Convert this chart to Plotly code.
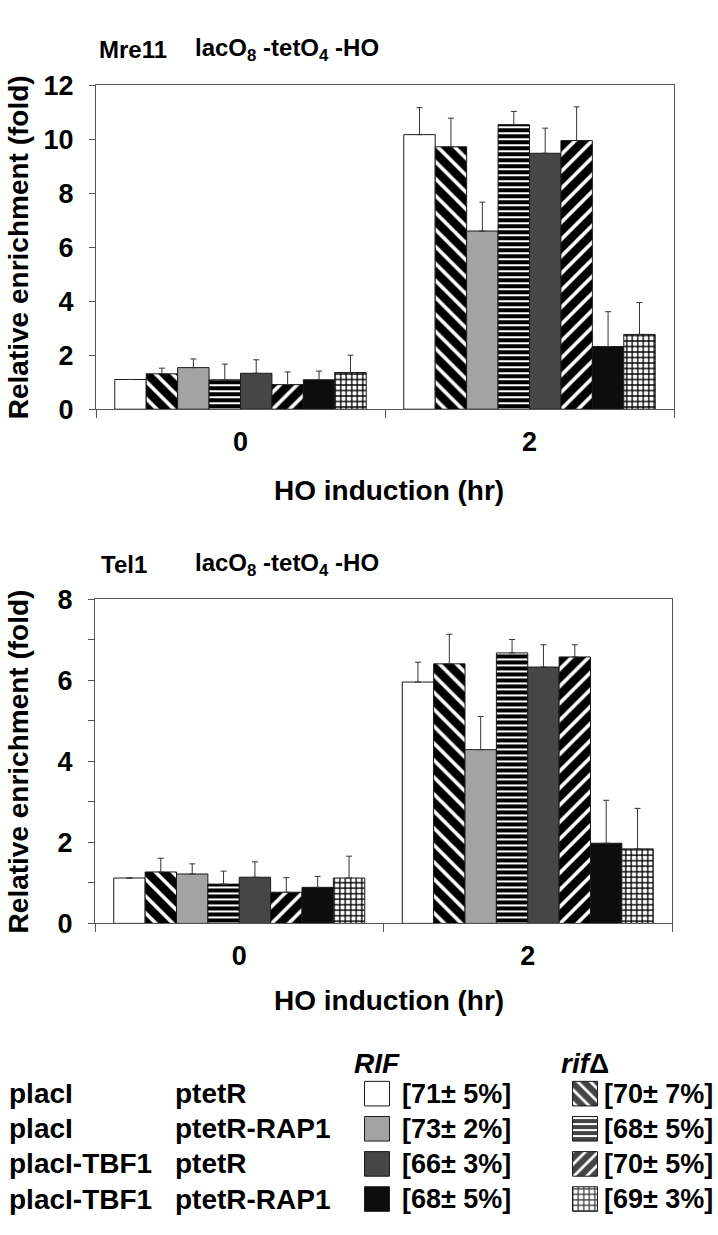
import plotly.graph_objects as go

# ---------------- data ----------------
times = ["0", "2"]

series_names = [
    "RIF placI ptetR", "rifΔ placI ptetR",
    "RIF placI ptetR-RAP1", "rifΔ placI ptetR-RAP1",
    "RIF placI-TBF1 ptetR", "rifΔ placI-TBF1 ptetR",
    "RIF placI-TBF1 ptetR-RAP1", "rifΔ placI-TBF1 ptetR-RAP1",
]

# Mre11 (top panel): values at 0 h and 2 h, upper error
mre11_vals = [
    [1.10, 10.17], [1.31, 9.72], [1.54, 6.60], [1.09, 10.54],
    [1.33, 9.48], [0.91, 9.95], [1.09, 2.32], [1.36, 2.77],
]
mre11_err = [
    [None, 1.00], [0.21, 1.06], [0.32, 1.07], [0.58, 0.49],
    [0.50, 0.93], [0.47, 1.25], [0.32, 1.29], [0.64, 1.18],
]

# Tel1 (bottom panel)
tel1_vals = [
    [1.12, 5.96], [1.27, 6.41], [1.22, 4.29], [0.97, 6.68],
    [1.14, 6.33], [0.77, 6.58], [0.89, 1.98], [1.12, 1.84],
]
tel1_err = [
    [None, 0.49], [0.34, 0.73], [0.25, 0.82], [0.32, 0.33],
    [0.38, 0.55], [0.36, 0.30], [0.27, 1.06], [0.54, 1.00],
]

# styles per series
fill_colors = ["white", "white", "#a3a3a3", "white", "#464646", "white", "#0d0d0d", "white"]
pattern_shapes = ["", "\\", "", "-", "", "/", "", "+"]
pattern_sizes = [8, 12, 8, 6, 8, 12, 8, 5.5]
pattern_solid = [0.3, 0.7, 0.3, 0.66, 0.3, 0.7, 0.3, 0.42]

# legend table
row_col1 = ["placI", "placI", "placI-TBF1", "placI-TBF1"]
row_col2 = ["ptetR", "ptetR-RAP1", "ptetR", "ptetR-RAP1"]
rif_pct = ["[71± 5%]", "[73± 2%]", "[66± 3%]", "[68± 5%]"]
rifd_pct = ["[70± 7%]", "[68± 5%]", "[70± 5%]", "[69± 3%]"]
legend_rows = [0, 1, 2, 3]

# ---------------- layout helpers ----------------
W, H = 718, 1235
def fx(x):
    return x / W
def fy(y):
    return 1 - y / H

FONT = "Liberation Sans, Arial, sans-serif"
AX = "#555555"

fig = go.Figure()

def add_panel(vals, errs, xa, ya):
    for i, name in enumerate(series_names):
        fig.add_trace(go.Bar(
            x=times, y=vals[i], name=name, xaxis=xa, yaxis=ya,
            showlegend=False, textposition="none",
            marker=dict(
                color=fill_colors[i],
                line=dict(color="#1a1a1a", width=1),
                pattern=dict(shape=pattern_shapes[i], fgcolor="black", bgcolor=fill_colors[i],
                             fgopacity=1, size=pattern_sizes[i], solidity=pattern_solid[i]),
            ),
            error_y=dict(type="data", symmetric=False, array=errs[i], arrayminus=[0, 0],
                         color="#333333", thickness=1, width=3),
        ))

add_panel(mre11_vals, mre11_err, "x", "y")
add_panel(tel1_vals, tel1_err, "x2", "y2")

# legend swatches drawn as bars on an auxiliary axis
rif_idx = [0, 2, 4, 6]
rifd_idx = [1, 3, 5, 7]
sw_x, sw_base, sw_col, sw_shape, sw_size, sw_sol = [], [], [], [], [], []
for col, idxs in ((0, rif_idx), (1, rifd_idx)):
    for r, k in zip(legend_rows, idxs):
        sw_x.append(col)
        sw_base.append(r - 0.35)
        sw_col.append(fill_colors[k])
        sw_shape.append(pattern_shapes[k])
        sw_size.append(pattern_sizes[k] * (0.75 if pattern_shapes[k] in ("/", "\\") else 1.0))
        sw_sol.append(pattern_solid[k])
fig.add_trace(go.Bar(
    x=sw_x, y=[0.7] * len(sw_x), base=sw_base, width=0.12,
    xaxis="x3", yaxis="y3", showlegend=False, hoverinfo="skip", textposition="none",
    marker=dict(color=sw_col, line=dict(color="#1a1a1a", width=1),
                pattern=dict(shape=sw_shape, fgcolor="black", bgcolor=sw_col, fgopacity=1,
                             size=sw_size, solidity=sw_sol)),
))

axis_common = dict(showline=True, mirror=True, linecolor=AX, linewidth=1,
                   showgrid=False, zeroline=False, ticks="outside", tickcolor=AX)
tickfont = dict(family=FONT, size=27, color="black", weight="bold")

fig.update_layout(
    width=W, height=H, margin=dict(l=0, r=0, t=0, b=0),
    paper_bgcolor="white", plot_bgcolor="white",
    barmode="group", bargap=0.13, bargroupgap=0,
    font=dict(family=FONT, color="black"),
    xaxis=dict(domain=[fx(96), fx(674)], anchor="y", type="category",
               tickson="boundaries", ticklen=8, tickfont=tickfont,
               ticklabelstandoff=8, **axis_common),
    yaxis=dict(domain=[fy(404), fy(72)], anchor="x", range=[0, 12],
               tickvals=[0, 2, 4, 6, 8, 10, 12], ticklen=6, tickfont=tickfont,
               ticklabelstandoff=10, **axis_common),
    xaxis2=dict(domain=[fx(95), fx(672)], anchor="y2", type="category",
                tickson="boundaries", ticklen=8, tickfont=tickfont,
                ticklabelstandoff=8, **axis_common),
    yaxis2=dict(domain=[fy(931), fy(599)], anchor="x2", range=[0, 8],
                tickvals=[0, 2, 4, 6, 8], ticklen=6, tickfont=tickfont,
                ticklabelstandoff=10,
                minor=dict(tickvals=[1, 3, 5, 7], ticks="outside", ticklen=6,
                           tickcolor=AX, showgrid=False),
                **axis_common),
    xaxis3=dict(domain=[fx(273), fx(689)], anchor="y3", range=[-0.5, 1.5], visible=False),
    yaxis3=dict(domain=[fy(1231.5), fy(1087.5)], anchor="x3", range=[3.5, -0.5], visible=False),
)

ann = []
def text(x, y, s, size, xanchor="left", angle=0):
    ann.append(dict(x=fx(x), y=fy(y), xref="paper", yref="paper", text=s, showarrow=False,
                    xanchor=xanchor, yanchor="middle", textangle=angle,
                    font=dict(family=FONT, size=size, color="black", weight="bold")))

# panel titles
text(97, 35, "Mre11", 24)
text(193, 35, "lacO<sub>8</sub> -tetO<sub>4</sub> -HO", 24)
text(99, 563, "Tel1", 24)
text(193, 563, "lacO<sub>8</sub> -tetO<sub>4</sub> -HO", 24)
# axis titles
text(18, 238, "Relative enrichment (fold)", 28, "center", -90)
text(18, 765, "Relative enrichment (fold)", 28, "center", -90)
text(389, 487, "HO induction (hr)", 28, "center")
text(389, 1010, "HO induction (hr)", 28, "center")
# legend table
text(377, 1075, "<i>RIF</i>", 28, "center")
text(585, 1075, "<i>rif</i>Δ", 28, "center")
for r in legend_rows:
    yy = 1105.5 + 36 * r
    text(7, yy, row_col1[r], 28)
    text(173, yy, row_col2[r], 28)
    text(400, yy, rif_pct[r], 27)
    text(602, yy, rifd_pct[r], 27)

fig.update_layout(annotations=ann)

fig.write_html("out.html", config={"displayModeBar": False},
               post_script="document.body.style.margin='0';")
